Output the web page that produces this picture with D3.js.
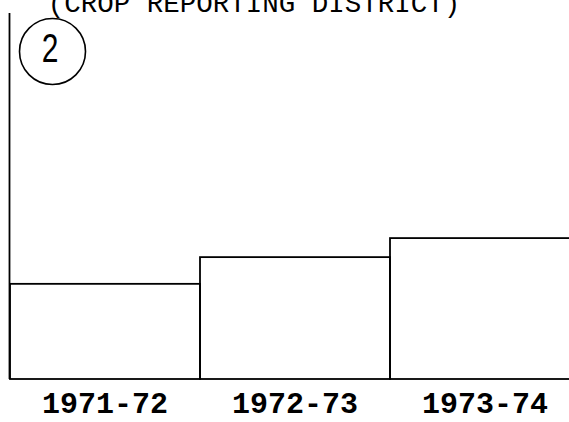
<!DOCTYPE html>
<html><head><meta charset="utf-8">
<script src="https://cdn.jsdelivr.net/npm/d3@7"></script>
<style>body{margin:0;background:#fff}svg{display:block}</style>
</head><body>
<script>
const categories = ["1971-72", "1972-73", "1973-74"];
const values = [26, 33.3, 38.5];        // relative index (axis top = 100)
const title = "(CROP REPORTING DISTRICT)";
const districtNumber = "2";

const W = 569, H = 422;
const svg = d3.select("body").append("svg").attr("width", W).attr("height", H);

const x = d3.scaleBand().domain(categories).range([10, 580]).padding(0);
const y = d3.scaleLinear().domain([0, 100]).range([379, 13]);

// title (cut off at top)
svg.append("text").attr("x", 254).attr("y", 12)
  .attr("text-anchor", "middle")
  .style("font-family", "'Liberation Mono', monospace").style("font-size", "27.5px")
  .attr("fill", "#000").text(title);

// bars as outlined steps
svg.append("g").selectAll("rect").data(categories).join("rect")
  .attr("x", d => x(d)).attr("width", x.bandwidth())
  .attr("y", (d, i) => y(values[i])).attr("height", (d, i) => y(0) - y(values[i]))
  .attr("fill", "none").attr("stroke", "#000").attr("stroke-width", 1.8);

// left axis line
svg.append("line").attr("x1", 9.5).attr("x2", 9.5).attr("y1", y(100)).attr("y2", y(0))
  .attr("stroke", "#000").attr("stroke-width", 1.8);

// bottom labels via axis
const xAxis = d3.axisBottom(x).tickSize(0).tickPadding(0);
const gx = svg.append("g").attr("transform", `translate(0,${y(0)})`).call(xAxis);
gx.select(".domain").remove();
gx.selectAll("text")
  .attr("y", 0).attr("dy", 0)
  .attr("transform", "translate(0,34)")
  .style("font-family", "'Liberation Mono', monospace").style("font-size", "30px")
  .style("font-weight", "bold").attr("fill", "#000");

// circled district number
svg.append("circle").attr("cx", 52.5).attr("cy", 51.5).attr("r", 33)
  .attr("fill", "none").attr("stroke", "#000").attr("stroke-width", 1.6);
svg.append("text").attr("transform", "translate(50,62) scale(0.75,1)")
  .attr("text-anchor", "middle")
  .style("font-family", "'Liberation Sans', Arial, sans-serif").style("font-size", "40px")
  .attr("fill", "#000").text(districtNumber);
</script>
</body></html>
